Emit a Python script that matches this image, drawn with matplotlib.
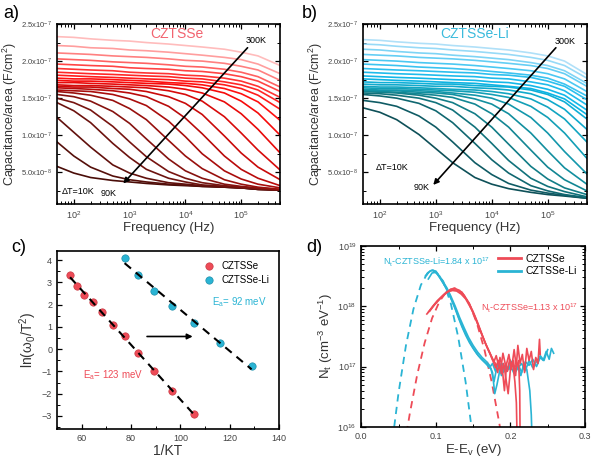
import numpy as np
import matplotlib
matplotlib.use('Agg')
import matplotlib.pyplot as plt
from matplotlib.colors import LinearSegmentedColormap
from matplotlib.ticker import FuncFormatter, MultipleLocator, LogLocator, NullFormatter

plt.rcParams['font.family'] = ['Liberation Sans', 'DejaVu Sans']
plt.rcParams['mathtext.fontset'] = 'custom'
plt.rcParams['mathtext.rm'] = 'Liberation Sans'
plt.rcParams['mathtext.it'] = 'Liberation Sans:italic'
plt.rcParams['mathtext.default'] = 'regular'

# ---- a) / b) capacitance-frequency, units of 1e-7 F/cm2 ----
freq_hz = [50, 100, 200, 500, 1e3, 2e3, 5e3, 1e4, 2e4, 5e4, 1e5, 2e5, 5e5]
temps_k = list(range(90, 310, 10))

cap_czts = [
    [0.58, 0.49, 0.43, 0.39, 0.37, 0.35, 0.33, 0.32, 0.31, 0.30, 0.29, 0.27, 0.26],
    [0.91, 0.72, 0.57, 0.45, 0.40, 0.37, 0.34, 0.33, 0.31, 0.30, 0.29, 0.27, 0.26],
    [1.24, 1.04, 0.84, 0.60, 0.49, 0.42, 0.36, 0.34, 0.32, 0.30, 0.29, 0.27, 0.26],
    [1.44, 1.33, 1.17, 0.89, 0.70, 0.54, 0.42, 0.37, 0.33, 0.31, 0.29, 0.28, 0.26],
    [1.50, 1.44, 1.34, 1.12, 0.91, 0.71, 0.51, 0.42, 0.36, 0.32, 0.30, 0.28, 0.26],
    [1.55, 1.52, 1.46, 1.32, 1.16, 0.95, 0.68, 0.52, 0.42, 0.34, 0.31, 0.29, 0.27],
    [1.59, 1.57, 1.54, 1.47, 1.36, 1.21, 0.93, 0.72, 0.55, 0.40, 0.34, 0.30, 0.27],
    [1.61, 1.60, 1.59, 1.55, 1.49, 1.40, 1.19, 0.98, 0.75, 0.52, 0.41, 0.34, 0.29],
    [1.64, 1.63, 1.62, 1.60, 1.57, 1.52, 1.39, 1.23, 1.02, 0.72, 0.54, 0.42, 0.32],
    [1.66, 1.65, 1.65, 1.63, 1.62, 1.59, 1.52, 1.43, 1.28, 0.99, 0.76, 0.57, 0.40],
    [1.68, 1.67, 1.67, 1.66, 1.65, 1.64, 1.60, 1.55, 1.46, 1.25, 1.03, 0.80, 0.53],
    [1.71, 1.71, 1.70, 1.69, 1.68, 1.67, 1.65, 1.62, 1.57, 1.45, 1.29, 1.08, 0.76],
    [1.74, 1.73, 1.73, 1.72, 1.71, 1.70, 1.69, 1.67, 1.64, 1.57, 1.46, 1.30, 1.00],
    [1.77, 1.76, 1.76, 1.75, 1.74, 1.73, 1.71, 1.70, 1.68, 1.63, 1.56, 1.45, 1.20],
    [1.81, 1.80, 1.79, 1.78, 1.77, 1.76, 1.75, 1.73, 1.72, 1.68, 1.63, 1.54, 1.35],
    [1.85, 1.84, 1.83, 1.82, 1.81, 1.80, 1.79, 1.77, 1.76, 1.72, 1.68, 1.61, 1.44],
    [1.90, 1.89, 1.88, 1.87, 1.85, 1.84, 1.83, 1.81, 1.80, 1.77, 1.73, 1.66, 1.51],
    [1.96, 1.95, 1.94, 1.93, 1.91, 1.90, 1.89, 1.87, 1.86, 1.83, 1.79, 1.73, 1.59],
    [2.03, 2.02, 2.01, 1.99, 1.98, 1.97, 1.95, 1.93, 1.92, 1.89, 1.85, 1.79, 1.65],
    [2.11, 2.10, 2.09, 2.07, 2.06, 2.05, 2.03, 2.01, 2.00, 1.97, 1.93, 1.88, 1.74],
    [2.21, 2.20, 2.18, 2.17, 2.15, 2.14, 2.12, 2.10, 2.08, 2.05, 2.02, 1.96, 1.83],
    [2.33, 2.32, 2.30, 2.28, 2.27, 2.25, 2.23, 2.21, 2.19, 2.16, 2.12, 2.07, 1.94],
]

cap_li = [
    [1.37, 1.31, 1.21, 1.01, 0.82, 0.63, 0.43, 0.34, 0.28, 0.23, 0.20, 0.18, 0.15],
    [1.47, 1.44, 1.39, 1.26, 1.11, 0.91, 0.63, 0.47, 0.35, 0.26, 0.22, 0.19, 0.15],
    [1.55, 1.53, 1.50, 1.43, 1.33, 1.17, 0.89, 0.67, 0.49, 0.32, 0.25, 0.20, 0.16],
    [1.57, 1.56, 1.54, 1.50, 1.44, 1.34, 1.11, 0.89, 0.66, 0.42, 0.31, 0.24, 0.17],
    [1.59, 1.58, 1.57, 1.54, 1.50, 1.44, 1.29, 1.11, 0.88, 0.58, 0.41, 0.29, 0.20],
    [1.60, 1.59, 1.58, 1.56, 1.54, 1.51, 1.42, 1.29, 1.11, 0.80, 0.57, 0.40, 0.25],
    [1.61, 1.60, 1.60, 1.58, 1.57, 1.55, 1.49, 1.42, 1.29, 1.03, 0.79, 0.56, 0.34],
    [1.62, 1.61, 1.61, 1.60, 1.59, 1.57, 1.54, 1.50, 1.42, 1.24, 1.03, 0.78, 0.48],
    [1.64, 1.63, 1.63, 1.62, 1.61, 1.60, 1.58, 1.55, 1.51, 1.39, 1.24, 1.03, 0.69],
    [1.66, 1.65, 1.65, 1.64, 1.63, 1.62, 1.61, 1.59, 1.56, 1.49, 1.38, 1.22, 0.91],
    [1.69, 1.68, 1.68, 1.67, 1.66, 1.66, 1.64, 1.63, 1.61, 1.56, 1.48, 1.35, 1.08],
    [1.72, 1.71, 1.71, 1.70, 1.69, 1.69, 1.67, 1.66, 1.65, 1.61, 1.55, 1.45, 1.22],
    [1.76, 1.75, 1.74, 1.73, 1.72, 1.71, 1.70, 1.68, 1.66, 1.63, 1.57, 1.49, 1.28],
    [1.80, 1.79, 1.78, 1.77, 1.76, 1.75, 1.74, 1.72, 1.71, 1.67, 1.62, 1.54, 1.34],
    [1.85, 1.84, 1.83, 1.82, 1.81, 1.80, 1.79, 1.77, 1.76, 1.72, 1.68, 1.60, 1.41],
    [1.90, 1.89, 1.88, 1.87, 1.86, 1.85, 1.84, 1.82, 1.81, 1.78, 1.73, 1.66, 1.48],
    [1.96, 1.95, 1.94, 1.92, 1.91, 1.90, 1.88, 1.86, 1.84, 1.81, 1.77, 1.69, 1.53],
    [2.02, 2.01, 2.00, 1.98, 1.97, 1.96, 1.94, 1.92, 1.90, 1.87, 1.83, 1.76, 1.59],
    [2.09, 2.08, 2.07, 2.05, 2.04, 2.03, 2.01, 1.99, 1.97, 1.94, 1.90, 1.83, 1.66],
    [2.16, 2.15, 2.13, 2.11, 2.10, 2.08, 2.06, 2.04, 2.02, 1.98, 1.94, 1.87, 1.70],
    [2.23, 2.22, 2.20, 2.18, 2.17, 2.15, 2.13, 2.11, 2.09, 2.05, 2.01, 1.94, 1.77],
    [2.29, 2.28, 2.26, 2.24, 2.23, 2.21, 2.19, 2.17, 2.15, 2.11, 2.07, 2.00, 1.82],
]

# ---- c) Arrhenius ----
invkt_czts = [55.3, 58.0, 61.1, 64.5, 68.3, 72.5, 77.4, 82.9, 89.3, 96.7, 105.5]
lnw_czts = [3.34, 2.82, 2.45, 2.13, 1.67, 1.10, 0.57, -0.18, -0.99, -1.87, -2.90]
invkt_li = [77.4, 82.9, 89.3, 96.7, 105.5, 116.0, 128.9]
lnw_li = [4.12, 3.33, 2.63, 1.96, 1.16, 0.27, -0.76]

# ---- d) trap density, log10(Nt) ----
e_fit_czts = [0.058, 0.065, 0.075, 0.085, 0.095, 0.105, 0.115, 0.125, 0.135, 0.145,
              0.155, 0.165, 0.175, 0.185, 0.192]
lg_fit_czts = [15.69, 16.21, 16.86, 17.39, 17.80, 18.08, 18.25, 18.30, 18.23, 18.04,
               17.72, 17.29, 16.74, 16.07, 15.53]
e_fit_li = [0.040, 0.050, 0.060, 0.070, 0.080, 0.090, 0.100, 0.110, 0.120, 0.130,
            0.140, 0.150, 0.155]
lg_fit_li = [15.59, 16.56, 17.35, 17.95, 18.35, 18.57, 18.58, 18.41, 18.05, 17.49,
             16.74, 15.79, 15.25]

e_czts_1 = [0.088, 0.094, 0.100, 0.106, 0.112, 0.118, 0.124, 0.130, 0.136, 0.142, 0.148,
            0.154, 0.160, 0.166, 0.171, 0.175, 0.178, 0.181, 0.184, 0.187, 0.190, 0.193,
            0.196, 0.199, 0.202, 0.205, 0.208, 0.211, 0.2125, 0.213]
lg_czts_1 = [17.87, 17.96, 18.05, 18.13, 18.20, 18.25, 18.27, 18.26, 18.20, 18.10, 17.95,
             17.77, 17.58, 17.40, 17.26, 17.16, 17.08, 17.18, 17.02, 16.95, 17.22, 17.05,
             16.92, 17.12, 17.00, 17.28, 16.98, 17.10, 16.60, 15.80]
e_czts_2 = [0.090, 0.096, 0.102, 0.108, 0.114, 0.120, 0.126, 0.132, 0.138, 0.144, 0.150,
            0.156, 0.162, 0.167, 0.172, 0.176, 0.180, 0.183, 0.186, 0.189, 0.192, 0.195,
            0.198, 0.201, 0.204, 0.207, 0.210, 0.213, 0.216, 0.219, 0.222, 0.225, 0.228,
            0.231, 0.234, 0.237, 0.239, 0.240]
lg_czts_2 = [17.90, 18.00, 18.09, 18.16, 18.23, 18.28, 18.29, 18.26, 18.18, 18.06, 17.91,
             17.73, 17.53, 17.37, 17.24, 17.12, 17.05, 16.90, 17.15, 16.98, 16.60, 17.05,
             17.20, 16.95, 17.10, 16.85, 17.35, 17.05, 17.20, 16.90, 17.30, 17.10, 17.25,
             16.95, 17.15, 17.05, 17.45, 17.20]
e_czts_3 = [0.092, 0.098, 0.104, 0.110, 0.116, 0.122, 0.128, 0.134, 0.140, 0.146, 0.152,
            0.158, 0.164, 0.169, 0.173, 0.177, 0.180, 0.184, 0.188, 0.191, 0.194, 0.197,
            0.200, 0.203, 0.206, 0.208, 0.209]
lg_czts_3 = [17.92, 18.02, 18.10, 18.18, 18.24, 18.26, 18.25, 18.20, 18.12, 17.99, 17.84,
             17.65, 17.46, 17.31, 17.20, 17.08, 16.98, 17.10, 16.88, 17.05, 16.80, 16.55,
             16.95, 17.08, 16.75, 16.40, 15.80]

e_li_1 = [0.086, 0.090, 0.094, 0.098, 0.102, 0.106, 0.110, 0.115, 0.120, 0.125, 0.130,
          0.135, 0.140, 0.145, 0.150, 0.155, 0.160, 0.165, 0.170, 0.174, 0.178, 0.182,
          0.186, 0.190, 0.194, 0.198, 0.202, 0.206, 0.210, 0.214, 0.218, 0.222, 0.226,
          0.228, 0.229]
lg_li_1 = [18.50, 18.56, 18.59, 18.58, 18.53, 18.46, 18.38, 18.27, 18.14, 17.99, 17.82,
           17.66, 17.52, 17.40, 17.30, 17.21, 17.14, 17.08, 17.02, 16.96, 16.75, 17.00,
           17.05, 16.90, 17.02, 16.95, 17.08, 16.92, 17.00, 16.85, 17.05, 16.95, 16.60,
           16.20, 15.80]
e_li_2 = [0.088, 0.092, 0.096, 0.100, 0.104, 0.108, 0.112, 0.117, 0.122, 0.127, 0.132,
          0.137, 0.142, 0.147, 0.152, 0.157, 0.162, 0.167, 0.172, 0.176, 0.180, 0.184,
          0.188, 0.192, 0.196, 0.200, 0.205, 0.210, 0.215, 0.220, 0.225, 0.230, 0.235,
          0.240, 0.244, 0.248, 0.252, 0.255, 0.258]
lg_li_2 = [18.52, 18.58, 18.60, 18.57, 18.50, 18.42, 18.34, 18.22, 18.08, 17.93, 17.77,
           17.62, 17.49, 17.37, 17.27, 17.18, 17.11, 17.05, 16.98, 17.05, 16.92, 17.08,
           16.85, 17.00, 16.95, 17.10, 16.98, 17.05, 16.90, 17.08, 17.02, 17.12, 17.00,
           17.15, 17.10, 17.25, 17.12, 17.30, 17.22]
e_li_3 = [0.090, 0.095, 0.100, 0.105, 0.110, 0.115, 0.120, 0.126, 0.132, 0.138, 0.144,
          0.150, 0.156, 0.162, 0.168, 0.172, 0.176, 0.179, 0.182, 0.186, 0.190, 0.195,
          0.200, 0.205, 0.210, 0.215, 0.220, 0.225, 0.230, 0.235, 0.240, 0.245, 0.250]
lg_li_3 = [18.45, 18.55, 18.56, 18.50, 18.40, 18.30, 18.17, 18.00, 17.81, 17.64, 17.48,
           17.35, 17.24, 17.15, 17.08, 17.02, 16.90, 16.55, 16.70, 16.95, 17.05, 16.92,
           17.02, 16.88, 16.97, 17.05, 16.93, 17.10, 16.98, 17.08, 17.18, 17.10, 17.28]

RED = '#ee4b57'
CYAN = '#2ab4d4'
GREY = '#333333'

red_map = LinearSegmentedColormap.from_list(
    'reds', ['#4a0d08', '#7a1410', '#c00a0a', '#ff0a0a', '#ff3c3c', '#ffbcbc'])
blue_map = LinearSegmentedColormap.from_list(
    'blues', ['#0e5058', '#12808a', '#13a2bb', '#0cb6e8', '#45c6f2', '#b0e0f8'])


def sci_label(v, pos):
    if v <= 0:
        return ''
    m, e = f'{v:.1e}'.split('e')
    return f'{m}x10$^{{{int(e)}}}$'


def style_axes(ax):
    ax.tick_params(which='both', direction='in', top=True, right=True,
                   labelsize=6.5, colors='black', labelcolor='#444444')
    ax.tick_params(which='major', length=3.5, width=0.9)
    ax.tick_params(which='minor', length=2, width=0.7)
    for s in ax.spines.values():
        s.set_linewidth(1.2)


def cv_panel(ax, caps, cmap, title, tcolor, arrow, lbl300, lbl90, lbl_dt):
    n = len(temps_k)
    for i, row in enumerate(caps):
        ax.plot(freq_hz, np.array(row) * 1e-7, color=cmap(i / (n - 1)), lw=1.2)
    ax.set_xscale('log')
    ax.set_xlim(50, 5e5)
    ax.set_ylim(0.07e-7, 2.5e-7)
    ax.yaxis.set_major_locator(MultipleLocator(0.5e-7))
    ax.yaxis.set_minor_locator(MultipleLocator(0.25e-7))
    ax.yaxis.set_major_formatter(FuncFormatter(sci_label))
    ax.xaxis.set_minor_locator(LogLocator(base=10, subs=np.arange(2, 10)))
    ax.xaxis.set_minor_formatter(NullFormatter())
    style_axes(ax)
    ax.tick_params(axis='y', labelsize=5.5)
    ax.set_xlabel('Frequency (Hz)', fontsize=9.5, color=GREY, labelpad=1)
    ax.set_ylabel('Capacitance/area (F/cm$^2$)', fontsize=9, color=GREY, labelpad=2)
    ax.text(title[0], title[1] * 1e-7, title[2], color=tcolor, fontsize=10,
            ha='center', va='center')
    (x0, y0), (x1, y1) = arrow
    ax.annotate('', xy=(x1, y1 * 1e-7), xytext=(x0, y0 * 1e-7),
                arrowprops=dict(arrowstyle='-|>', color='black', lw=1.2,
                                mutation_scale=8, shrinkA=0, shrinkB=0))
    ax.text(lbl300[0], lbl300[1] * 1e-7, '300K', fontsize=6.5, ha='left', va='center')
    ax.text(lbl90[0], lbl90[1] * 1e-7, '90K', fontsize=6.5, ha='left', va='center')
    ax.text(lbl_dt[0], lbl_dt[1] * 1e-7, 'ΔT=10K', fontsize=6.5, ha='left', va='center')


fig = plt.figure(figsize=(6, 4.62), dpi=100)
ax_a = fig.add_axes([0.095, 0.558, 0.372, 0.39])
ax_b = fig.add_axes([0.605, 0.558, 0.373, 0.39])
ax_c = fig.add_axes([0.095, 0.071, 0.370, 0.385])
ax_d = fig.add_axes([0.602, 0.076, 0.373, 0.392])

cv_panel(ax_a, cap_czts, red_map, (7000, 2.36, 'CZTSSe'), '#f26470',
         ((1.3e5, 2.18), (770, 0.35)), (1.2e5, 2.28), (300, 0.21), (62, 0.24))
cv_panel(ax_b, cap_li, blue_map, (5000, 2.36, 'CZTSSe-Li'), '#3bbbdc',
         ((1.4e5, 2.18), (900, 0.33)), (1.35e5, 2.27), (400, 0.29), (85, 0.56))

# c)
ax_c.scatter(invkt_czts, lnw_czts, s=28, color=RED, edgecolors='#c83a44',
             linewidths=0.5, zorder=3, label='CZTSSe')
ax_c.scatter(invkt_li, lnw_li, s=28, color=CYAN, edgecolors='#1f8faa',
             linewidths=0.5, zorder=3, label='CZTSSe-Li')
for xs, ys in ((invkt_czts, lnw_czts), (invkt_li, lnw_li)):
    k, b = np.polyfit(xs, ys, 1)
    xx = np.array([min(xs), max(xs)])
    ax_c.plot(xx, k * xx + b, color='black', lw=1.5, ls=(0, (4, 3)), zorder=4)
ax_c.set_xlim(50, 140)
ax_c.set_ylim(-3.6, 4.4)
ax_c.xaxis.set_major_locator(MultipleLocator(20))
ax_c.xaxis.set_minor_locator(MultipleLocator(10))
ax_c.yaxis.set_major_locator(MultipleLocator(1))
ax_c.yaxis.set_minor_locator(MultipleLocator(0.5))
style_axes(ax_c)
ax_c.tick_params(top=False, right=False, which='both')
ax_c.set_xlabel('1/KT', fontsize=10, color=GREY, labelpad=1)
ax_c.set_ylabel('ln(ω$_0$/T$^2$)', fontsize=10, color=GREY, labelpad=2)
ax_c.text(60.5, -1.15, 'E$_a$= 123 meV', color=RED, fontsize=7, va='center')
ax_c.text(113, 2.1, 'E$_a$= 92 meV', color=CYAN, fontsize=7, va='center')
ax_c.annotate('', xy=(105, 0.57), xytext=(86.5, 0.57),
              arrowprops=dict(arrowstyle='-|>', color='black', lw=1.2,
                              mutation_scale=8, shrinkA=0, shrinkB=0))
ax_c.legend(loc='upper right', frameon=False, fontsize=7, handletextpad=0.3,
            borderaxespad=0.6, labelspacing=0.4)

# d)
ax_d.plot(e_fit_li, 10 ** np.array(lg_fit_li), color=CYAN, lw=1.3, ls=(0, (4, 3)))
ax_d.plot(e_fit_czts, 10 ** np.array(lg_fit_czts), color=RED, lw=1.3, ls=(0, (4, 3)))
for xs, ys in ((e_li_1, lg_li_1), (e_li_2, lg_li_2), (e_li_3, lg_li_3)):
    ax_d.plot(xs, 10 ** np.array(ys), color=CYAN, lw=1.2)
for xs, ys in ((e_czts_1, lg_czts_1), (e_czts_2, lg_czts_2), (e_czts_3, lg_czts_3)):
    ax_d.plot(xs, 10 ** np.array(ys), color=RED, lw=1.2)
ax_d.plot([], [], color=RED, lw=2, label='CZTSSe')
ax_d.plot([], [], color=CYAN, lw=2, label='CZTSSe-Li')
ax_d.set_yscale('log')
ax_d.set_xlim(0, 0.3)
ax_d.set_ylim(1e16, 1e19)
ax_d.xaxis.set_major_locator(MultipleLocator(0.1))
ax_d.xaxis.set_minor_locator(MultipleLocator(0.05))
ax_d.yaxis.set_minor_locator(LogLocator(base=10, subs=np.arange(2, 10)))
ax_d.yaxis.set_minor_formatter(NullFormatter())
style_axes(ax_d)
ax_d.set_xlabel('E-E$_v$ (eV)', fontsize=9.5, color=GREY, labelpad=1)
ax_d.set_ylabel('N$_t$ (cm$^{-3}$ eV$^{-1}$)', fontsize=9.5, color=GREY, labelpad=2)
ax_d.text(0.029, 10 ** 18.73, 'N$_t$-CZTSSe-Li=1.84 x 10$^{17}$', color=CYAN,
          fontsize=6.5, va='center')
ax_d.text(0.161, 10 ** 17.97, 'N$_t$-CZTSSe=1.13 x 10$^{17}$', color=RED,
          fontsize=6.5, va='center')
ax_d.legend(loc='upper right', frameon=False, fontsize=7.5, handlelength=2.2,
            handletextpad=0.4, labelspacing=0.2, borderaxespad=0.4)

for x, y, t in ((0.006, 0.99, 'a)'), (0.503, 0.99, 'b)'),
                (0.018, 0.483, 'c)'), (0.51, 0.483, 'd)')):
    fig.text(x, y, t, fontsize=13, va='top', ha='left')

fig.savefig('out.png', dpi=100)
